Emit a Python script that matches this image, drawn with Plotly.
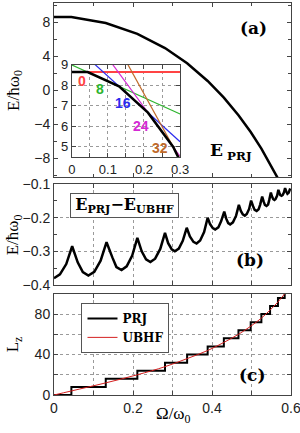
import plotly.graph_objects as go

# ---------------- data ----------------
# (a) projected energy E_PRJ vs rotation frequency (piecewise, breaks at L jumps)
e_prj_omega = [0.000, 0.044, 0.131, 0.211, 0.281, 0.337, 0.389, 0.430, 0.467,
               0.498, 0.525, 0.547, 0.567, 0.584, 0.600]
e_prj_values = [8.65, 8.65, 7.95, 6.67, 4.99, 3.20, 1.12, -0.85, -2.92,
                -4.90, -6.85, -8.61, -10.37, -12.00, -13.66]

# inset: fixed-L energy lines E_L - Omega*L
inset_labels = ["0", "8", "16", "24", "32"]
inset_omega = [0.0, 0.3]
inset_line_start = [8.65, 9.00, 10.05, 11.74, 13.99]
inset_line_end = [8.65, 6.60, 5.25, 4.54, 4.39]
inset_colors = ["#ff4444", "#2db42d", "#2a2aee", "#d42ad4", "#c06a2a"]
inset_label_x = [0.027, 0.077, 0.143, 0.193, 0.245]
inset_label_y = [8.22, 7.82, 7.14, 6.01, 4.93]

# (b) E_PRJ - E_UBHF
diff_omega = [0.000, 0.015, 0.031, 0.046, 0.060, 0.073, 0.087, 0.102, 0.118, 0.133,
              0.148, 0.158, 0.171, 0.184, 0.198, 0.211, 0.222, 0.233, 0.244, 0.256,
              0.269, 0.281, 0.289, 0.298, 0.306, 0.316, 0.326, 0.336, 0.344, 0.353,
              0.361, 0.370, 0.380, 0.389, 0.395, 0.402, 0.408, 0.416, 0.423, 0.431,
              0.436, 0.441, 0.446, 0.453, 0.461, 0.468, 0.473, 0.478, 0.483, 0.488,
              0.494, 0.499, 0.504, 0.508, 0.513, 0.518, 0.522, 0.527, 0.531, 0.534,
              0.538, 0.542, 0.545, 0.549, 0.552, 0.555, 0.558, 0.561, 0.565, 0.568,
              0.571, 0.573, 0.576, 0.579, 0.582, 0.585, 0.588, 0.591, 0.594, 0.598]
diff_values = [-0.380, -0.369, -0.338, -0.285, -0.333, -0.362, -0.372, -0.361, -0.328, -0.273,
               -0.319, -0.347, -0.356, -0.345, -0.313, -0.260, -0.300, -0.324, -0.332, -0.322,
               -0.293, -0.245, -0.276, -0.294, -0.300, -0.292, -0.269, -0.230, -0.256, -0.272,
               -0.277, -0.268, -0.243, -0.200, -0.219, -0.231, -0.235, -0.229, -0.211, -0.182,
               -0.203, -0.216, -0.220, -0.214, -0.194, -0.162, -0.180, -0.190, -0.194, -0.189,
               -0.174, -0.149, -0.166, -0.177, -0.180, -0.175, -0.161, -0.137, -0.153, -0.162,
               -0.165, -0.161, -0.147, -0.125, -0.137, -0.145, -0.147, -0.144, -0.134, -0.117,
               -0.127, -0.133, -0.135, -0.132, -0.125, -0.112, -0.122, -0.129, -0.126, -0.113]

# (c) angular momentum
lz_omega = [0.000, 0.044, 0.131, 0.211, 0.281, 0.337, 0.389, 0.430, 0.467,
            0.498, 0.525, 0.547, 0.567, 0.584, 0.600]
lz_prj = [0, 8, 16, 24, 32, 40, 48, 56, 64, 72, 80, 88, 96, 104, 104]
lz_ubhf = [0, 4, 12, 20, 28, 36, 44, 52, 60, 68, 76, 84, 92, 100, 107]

x_ticks = [0, 0.2, 0.4, 0.6]
x_ticktext = ["0", "0.2", "0.4", "0.6"]
ya_ticks = [-8, -4, 0, 4, 8]
ya_ticktext = ["\u22128", "\u22124", "0", "4", "8"]
yb_ticks = [-0.4, -0.3, -0.2, -0.1]
yb_ticktext = ["\u22120.4", "\u22120.3", "\u22120.2", "\u22120.1"]
yc_ticks = [0, 40, 80]
inset_x_ticks = [0, 0.1, 0.2, 0.3]
inset_x_ticktext = ["0", "0.1", "0.2", "0.3"]
inset_y_ticks = [5, 6, 7, 8, 9]

# ---------------- figure ----------------
fig = go.Figure()
BLACK = "#000000"

fig.add_trace(go.Scatter(x=e_prj_omega, y=e_prj_values, mode="lines",
                         line=dict(color=BLACK, width=2.5), xaxis="x", yaxis="y",
                         showlegend=False))
for lab, y0, y1, col in zip(inset_labels, inset_line_start, inset_line_end, inset_colors):
    fig.add_trace(go.Scatter(x=inset_omega, y=[y0, y1], mode="lines",
                             line=dict(color=col, width=2 if lab == "0" else 1.2),
                             xaxis="x4", yaxis="y4", showlegend=False))
fig.add_trace(go.Scatter(x=e_prj_omega, y=e_prj_values, mode="lines",
                         line=dict(color=BLACK, width=2.5), xaxis="x4", yaxis="y4",
                         showlegend=False))
fig.add_trace(go.Scatter(x=diff_omega, y=diff_values, mode="lines",
                         line=dict(color=BLACK, width=2.5), xaxis="x2", yaxis="y2",
                         showlegend=False))
fig.add_trace(go.Scatter(x=lz_omega, y=lz_prj, mode="lines", name="<b>PRJ</b>",
                         line=dict(color=BLACK, width=2, shape="hv"),
                         xaxis="x3", yaxis="y3"))
fig.add_trace(go.Scatter(x=lz_omega, y=lz_ubhf, mode="lines", name="<b>UBHF</b>",
                         line=dict(color="#d42020", width=1, shape="spline"),
                         xaxis="x3", yaxis="y3"))

TC = "#444"
TICKFONT = dict(family="Liberation Sans", size=14, color="#222")
AX = dict(showline=True, linecolor=TC, linewidth=1, mirror="ticks",
          ticks="inside", ticklen=4, tickcolor=TC, zeroline=False,
          tickfont=TICKFONT, automargin=False)
GRIDC = "#9a9a9a"
GRID = dict(showgrid=True, gridcolor=GRIDC, griddash="dot", gridwidth=1)


def minor(dt, grid):
    d = dict(dtick=dt, tick0=0, ticks="inside", ticklen=4 if grid else 3,
             tickcolor=TC, showgrid=grid)
    if grid:
        d.update(gridcolor=GRIDC, griddash="dot", gridwidth=1)
    return d


INSET_AX = {**AX, "tickfont": dict(TICKFONT, size=13)}

layout = dict(
    width=300, height=433,
    margin=dict(l=54, r=9, t=3, b=38, autoexpand=False),
    paper_bgcolor="white", plot_bgcolor="white",
    xaxis=dict(domain=[0, 1], anchor="y", range=[0, 0.6], tickmode="array",
               tickvals=x_ticks, showticklabels=False, showgrid=False,
               minor=minor(0.1, False), **AX),
    yaxis=dict(domain=[0.556, 1], anchor="x", range=[-10.2, 10.3], tickmode="array",
               tickvals=ya_ticks, ticktext=ya_ticktext, showgrid=False,
               minor=minor(2, False), **AX),
    xaxis2=dict(domain=[0, 1], anchor="y2", range=[0, 0.6], tickmode="array",
                tickvals=x_ticks, showticklabels=False, minor=minor(0.1, True),
                **AX, **GRID),
    yaxis2=dict(domain=[0.281, 0.538], anchor="x2", range=[-0.4, -0.1], tickmode="array",
                tickvals=yb_ticks, ticktext=yb_ticktext, minor=minor(0.05, False),
                **AX, **GRID),
    xaxis3=dict(domain=[0, 1], anchor="y3", range=[0, 0.6], tickmode="array",
                tickvals=x_ticks, ticktext=x_ticktext, minor=minor(0.1, True),
                ticklabeloverflow="allow", **AX, **GRID),
    yaxis3=dict(domain=[0, 0.258], anchor="x3", range=[0, 100], tickmode="array",
                tickvals=yc_ticks, minor=minor(20, True), **AX, **GRID),
    xaxis4=dict(domain=[0.075, 0.532], anchor="y4", range=[0, 0.3], tickmode="array",
                tickvals=inset_x_ticks, ticktext=inset_x_ticktext,
                minor=minor(0.05, True), **INSET_AX, **GRID),
    yaxis4=dict(domain=[0.607, 0.842], anchor="x4", range=[4.5, 9], tickmode="array",
                tickvals=inset_y_ticks, **INSET_AX, **GRID),
    legend=dict(x=0.116, y=0.235, xanchor="left", yanchor="top",
                bgcolor="white", bordercolor="#555", borderwidth=1,
                font=dict(family="DejaVu Serif", size=12, color=BLACK),
                tracegroupgap=0, itemwidth=30),
)
fig.update_layout(**layout)

LABF = "DejaVu Serif"
SERIF = "Liberation Serif"
ann = []
for lab, lx, ly, col in zip(inset_labels, inset_label_x, inset_label_y, inset_colors):
    ann.append(dict(x=lx, y=ly, xref="x4", yref="y4", text="<b>%s</b>" % lab,
                    xanchor="center", yanchor="middle", showarrow=False,
                    font=dict(family="Liberation Sans", size=14, color=col)))


def pa(x, y, text, size, family=LABF, **kw):
    d = dict(x=x, y=y, xref="paper", yref="paper", text=text, showarrow=False,
             xanchor="center", yanchor="middle",
             font=dict(family=family, size=size, color=BLACK))
    d.update(kw)
    return d


ann += [
    pa(0.840, 0.936, "<b>(a)</b>", 17),
    pa(0.827, 0.344, "<b>(b)</b>", 17),
    pa(0.834, 0.051, "<b>(c)</b>", 17),
    pa(0.745, 0.620, "<b>E<sub> PRJ</sub></b>", 17),
    pa(0.297, 0.483, "<b>E<sub>PRJ</sub>\u2212E<sub>UBHF</sub></b>", 16,
       bordercolor="#555", borderwidth=1, bgcolor="white", width=105, height=21),
    pa(-0.165, (0.556 + 1) / 2, "E/\u0127\u03c9<sub>0</sub>", 17, SERIF, textangle=-90),
    pa(-0.165, (0.281 + 0.538) / 2, "E/\u0127\u03c9<sub>0</sub>", 17, SERIF, textangle=-90),
    pa(-0.165, 0.258 / 2, "L<sub>z</sub>", 17, SERIF, textangle=-90),
    pa(0.503, -0.051, "\u03a9/\u03c9<sub>0</sub>", 17, SERIF),
]
fig.update_layout(annotations=ann)

# the page's default 8px body margin would shift the whole figure; remove it
fig.write_html("out.html", config={"displayModeBar": False},
               post_script="document.body.style.margin='0px';"
                           "document.body.style.padding='0px';")
